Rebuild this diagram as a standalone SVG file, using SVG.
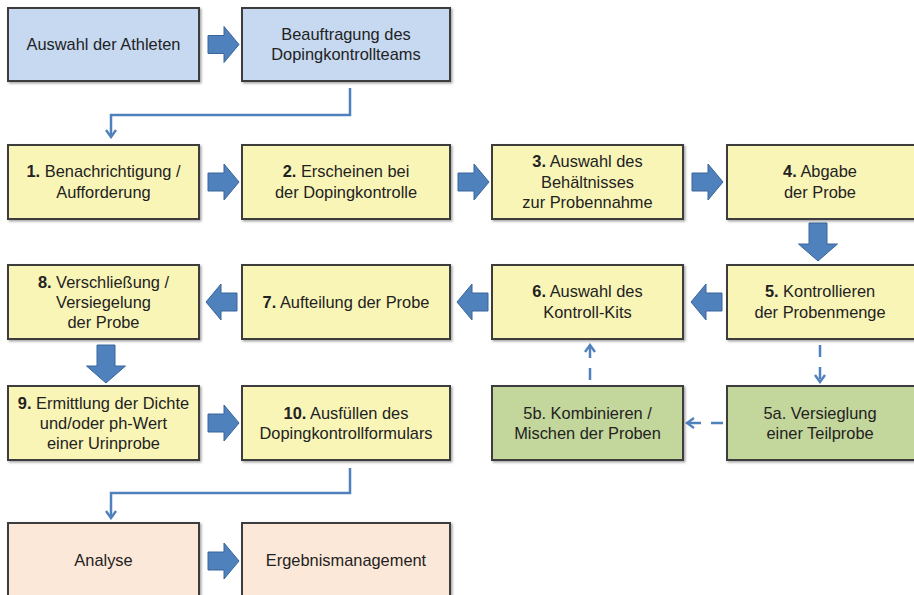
<svg xmlns="http://www.w3.org/2000/svg" xmlns:xlink="http://www.w3.org/1999/xlink" width="914" height="595" viewBox="0 0 914 595">
<style>
  .box { stroke: #3d3d3d; stroke-width: 2; filter: url(#sh); }
  .blue { fill: #c6d9f1; }
  .yellow { fill: #f9f5b7; }
  .green { fill: #c3d69b; }
  .peach { fill: #fce8d8; }
  text { font-family: "Liberation Sans", Arial, sans-serif; font-size: 16.4px; fill: #222; text-anchor: middle; }
  .b { font-weight: bold; }
  .fat { fill: #4f81bd; stroke: #3a659a; stroke-width: 1; }
  .line { fill: none; stroke: #4f81bd; stroke-width: 2.5; }
  .dash { fill: none; stroke: #4f81bd; stroke-width: 2.5; stroke-dasharray: 12 10; }
</style>
<defs>
  <filter id="sh" x="-5%" y="-5%" width="115%" height="120%">
    <feDropShadow dx="1.5" dy="1.5" stdDeviation="1.2" flood-color="#000" flood-opacity="0.35"/>
  </filter>
  <path id="ha" d="M0,-9 H16 V-18 L31,0 L16,18 V9 H0 Z"/>
  <path id="va" d="M-9,0 V21 H-19.5 L0,38 L19.5,21 H9 V0 Z"/>
  <marker id="chev" viewBox="0 0 12 12" refX="10" refY="6" markerWidth="12" markerHeight="12" markerUnits="userSpaceOnUse" orient="auto">
    <path d="M3,1 L10,6 L3,11" fill="none" stroke="#4f81bd" stroke-width="2.4"/>
  </marker>
</defs>
<rect width="914" height="595" fill="#fff"/>

<g id="connectors">
  <use xlink:href="#ha" class="fat" transform="translate(208,44.5)"/>
  <use xlink:href="#ha" class="fat" transform="translate(208,182)"/>
  <use xlink:href="#ha" class="fat" transform="translate(458,182)"/>
  <use xlink:href="#ha" class="fat" transform="translate(692,182)"/>
  <use xlink:href="#va" class="fat" transform="translate(818,223)"/>
  <use xlink:href="#ha" class="fat" transform="translate(722,302) rotate(180)"/>
  <use xlink:href="#ha" class="fat" transform="translate(488,302) rotate(180)"/>
  <use xlink:href="#ha" class="fat" transform="translate(237,302) rotate(180)"/>
  <use xlink:href="#va" class="fat" transform="translate(106,345)"/>
  <use xlink:href="#ha" class="fat" transform="translate(208,423)"/>
  <use xlink:href="#ha" class="fat" transform="translate(208,561)"/>
  <path class="line" d="M350,88 V115 H111 V137" marker-end="url(#chev)"/>
  <path class="line" d="M350,468 V493 H111 V518" marker-end="url(#chev)"/>
  <path class="dash" d="M820,345 V382" marker-end="url(#chev)"/>
  <path class="dash" d="M723,423 H687" marker-end="url(#chev)"/>
  <path class="dash" d="M590,380 V345" marker-end="url(#chev)"/>
</g>

<g id="n-athleten">
  <rect class="box blue" x="8" y="8" width="191" height="73"/>
  <text x="103.5" y="50">Auswahl der Athleten</text>
</g>
<g id="n-beauftragung">
  <rect class="box blue" x="242" y="8" width="208" height="73"/>
  <text x="346" y="40">Beauftragung des</text>
  <text x="346" y="60">Dopingkontrollteams</text>
</g>

<g id="n1">
  <rect class="box yellow" x="8" y="145" width="191" height="74"/>
  <text x="103.5" y="177"><tspan class="b">1.</tspan> Benachrichtigung /</text>
  <text x="103.5" y="198">Aufforderung</text>
</g>
<g id="n2">
  <rect class="box yellow" x="242" y="145" width="208" height="74"/>
  <text x="346" y="177"><tspan class="b">2.</tspan> Erscheinen bei</text>
  <text x="346" y="198">der Dopingkontrolle</text>
</g>
<g id="n3">
  <rect class="box yellow" x="492" y="145" width="191" height="74"/>
  <text x="587.5" y="167"><tspan class="b">3.</tspan> Auswahl des</text>
  <text x="587.5" y="188">Behältnisses</text>
  <text x="587.5" y="208">zur Probennahme</text>
</g>
<g id="n4">
  <rect class="box yellow" x="727" y="145" width="191" height="74"/>
  <text x="820" y="177"><tspan class="b">4.</tspan> Abgabe</text>
  <text x="820" y="198">der Probe</text>
</g>

<g id="n8">
  <rect class="box yellow" x="8" y="265" width="191" height="74"/>
  <text x="103.5" y="288"><tspan class="b">8.</tspan> Verschließung /</text>
  <text x="103.5" y="308">Versiegelung</text>
  <text x="103.5" y="328">der Probe</text>
</g>
<g id="n7">
  <rect class="box yellow" x="242" y="265" width="208" height="74"/>
  <text x="346" y="308"><tspan class="b">7.</tspan> Aufteilung der Probe</text>
</g>
<g id="n6">
  <rect class="box yellow" x="492" y="265" width="191" height="74"/>
  <text x="587.5" y="297"><tspan class="b">6.</tspan> Auswahl des</text>
  <text x="587.5" y="318">Kontroll-Kits</text>
</g>
<g id="n5">
  <rect class="box yellow" x="727" y="265" width="191" height="74"/>
  <text x="820" y="297"><tspan class="b">5.</tspan> Kontrollieren</text>
  <text x="820" y="318">der Probenmenge</text>
</g>

<g id="n9">
  <rect class="box yellow" x="8" y="386" width="191" height="74"/>
  <text x="103.5" y="409"><tspan class="b">9.</tspan> Ermittlung der Dichte</text>
  <text x="103.5" y="429">und/oder ph-Wert</text>
  <text x="103.5" y="449">einer Urinprobe</text>
</g>
<g id="n10">
  <rect class="box yellow" x="242" y="386" width="208" height="74"/>
  <text x="346" y="419"><tspan class="b">10.</tspan> Ausfüllen des</text>
  <text x="346" y="439">Dopingkontrollformulars</text>
</g>
<g id="n5b">
  <rect class="box green" x="492" y="386" width="191" height="74"/>
  <text x="587.5" y="419">5b. Kombinieren /</text>
  <text x="587.5" y="439">Mischen der Proben</text>
</g>
<g id="n5a">
  <rect class="box green" x="727" y="386" width="191" height="74"/>
  <text x="820" y="419">5a. Versieglung</text>
  <text x="820" y="439">einer Teilprobe</text>
</g>

<g id="n-analyse">
  <rect class="box peach" x="8" y="523" width="191" height="80"/>
  <text x="103.5" y="566">Analyse</text>
</g>
<g id="n-ergebnis">
  <rect class="box peach" x="242" y="523" width="208" height="80"/>
  <text x="346" y="566">Ergebnismanagement</text>
</g>
</svg>
